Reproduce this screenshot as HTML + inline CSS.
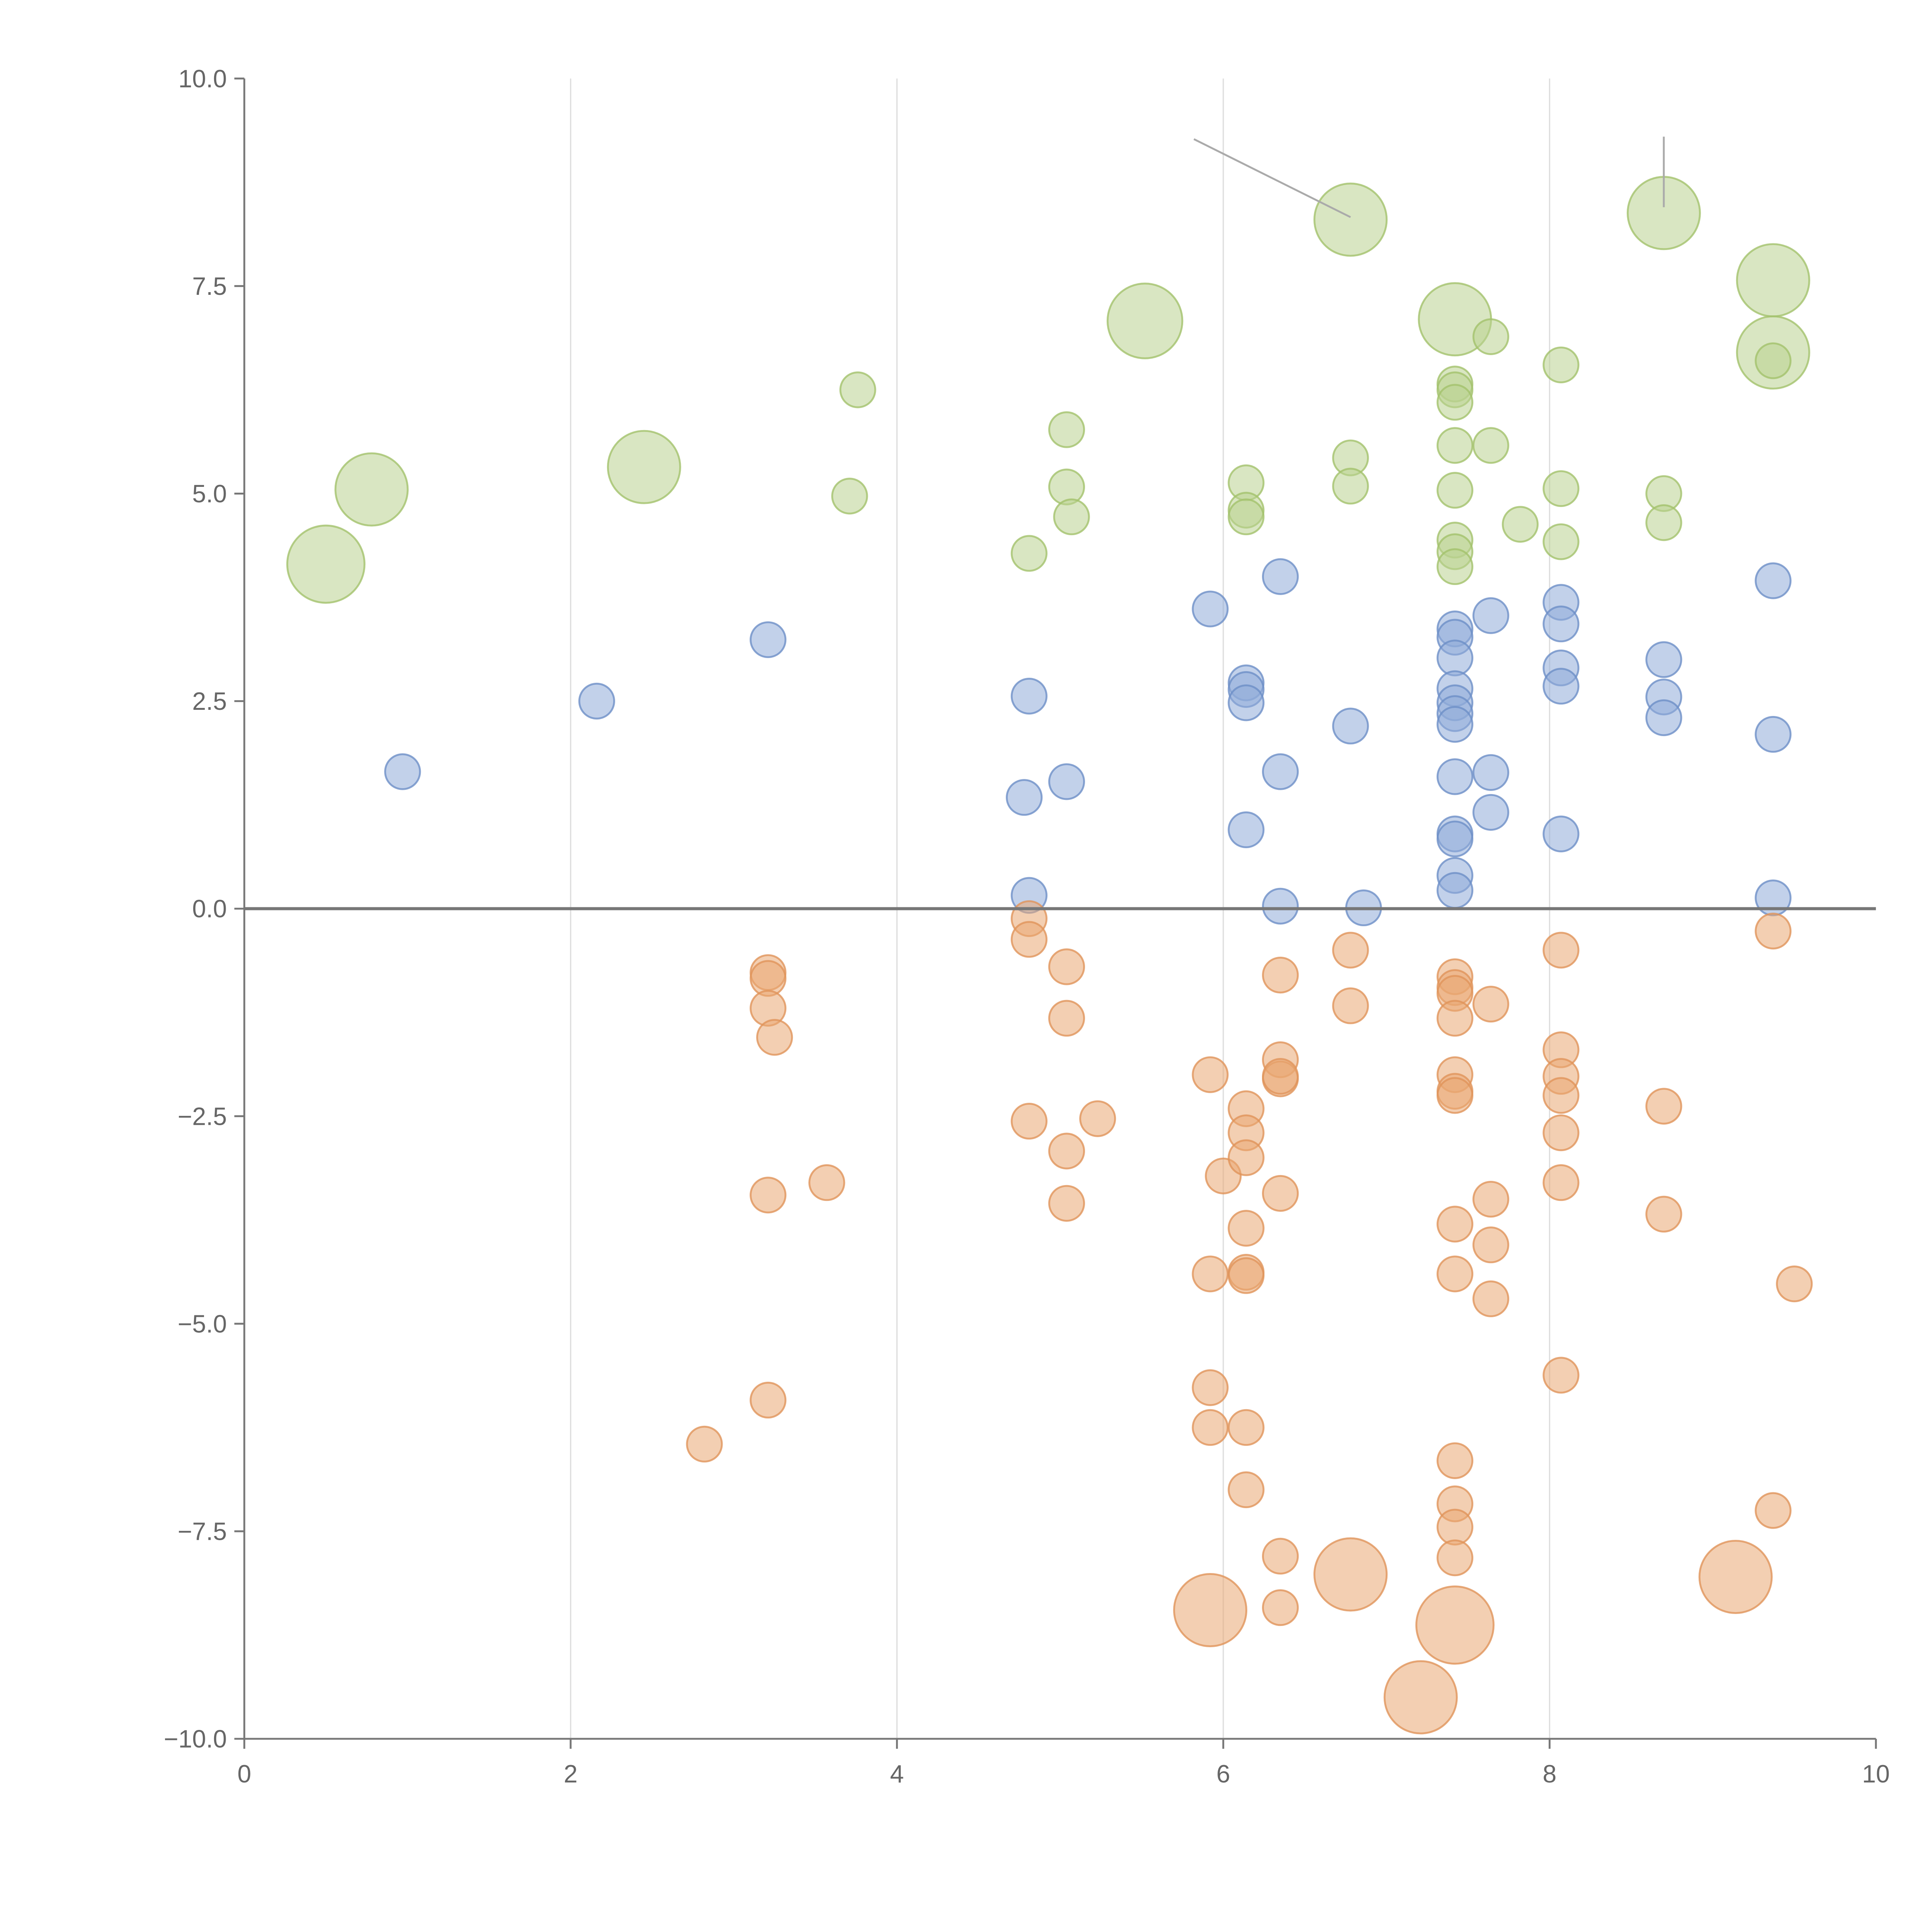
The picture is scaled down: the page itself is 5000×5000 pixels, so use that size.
<!DOCTYPE html>
<html><head><meta charset="utf-8"><style>html,body{margin:0;padding:0;background:#fff}svg{display:block}</style></head>
<body>
<svg id="chart" width="5000" height="5000" viewBox="0 0 1550 1550" xmlns="http://www.w3.org/2000/svg" font-family="Liberation Sans, sans-serif">
<g id="grid"></g>
<g id="marks"></g>
<g id="axes"></g>
</svg>
<script>
const xTicks=[0,2,4,6,8,10];
const yTicks=[10,7.5,5,2.5,0,-2.5,-5,-7.5,-10];
const yTickLabels=["10.0","7.5","5.0","2.5","0.0","\u22122.5","\u22125.0","\u22127.5","\u221210.0"];
const greenX=[0.5,0.78,2.45,5.52,6.78,7.42,8.7,9.37,9.37,3.76,3.71,5.04,5.04,5.07,4.81,6.14,6.14,6.14,6.78,6.78,7.42,7.42,7.42,7.42,7.42,7.42,7.42,7.42,7.64,7.64,7.82,8.07,8.07,8.07,8.7,8.7,9.37];
const greenY=[4.15,5.05,5.32,7.08,8.3,7.1,8.38,7.57,6.7,6.25,4.97,5.77,5.08,4.72,4.28,5.13,4.8,4.72,5.43,5.09,6.32,6.25,6.1,5.58,5.04,4.44,4.3,4.12,6.89,5.58,4.63,6.55,5.06,4.42,5.0,4.65,6.6];
const greenS=[31,29,29,30,29,29,29,29,29,14,14,14,14,14,14,14,14,14,14,14,14,14,14,14,14,14,14,14,14,14,14,14,14,14,14,14,14];
const blueX=[0.97,2.16,3.21,4.81,4.78,5.04,4.81,5.92,6.14,6.14,6.14,6.14,6.35,6.35,6.35,6.78,6.86,7.42,7.42,7.42,7.42,7.42,7.42,7.42,7.42,7.42,7.42,7.42,7.42,7.64,7.64,7.64,8.07,8.07,8.07,8.07,8.07,8.7,8.7,8.7,9.37,9.37,9.37];
const blueY=[1.65,2.5,3.24,2.56,1.34,1.53,0.16,3.61,2.72,2.64,2.48,0.95,4.0,1.65,0.03,2.2,0.01,3.37,3.27,3.02,2.65,2.48,2.35,2.22,1.59,0.9,0.84,0.4,0.22,3.53,1.64,1.16,3.69,3.43,2.9,2.68,0.9,3.0,2.55,2.3,3.95,2.1,0.13];
const orangeX=[3.21,3.21,3.21,3.25,3.21,3.57,3.21,2.82,4.81,4.81,5.04,5.04,4.81,5.23,5.04,5.04,5.92,6.0,5.92,5.92,5.92,5.92,6.14,6.14,6.14,6.14,6.14,6.14,6.14,6.14,6.35,6.35,6.35,6.35,6.35,6.35,6.35,6.78,6.78,6.78,7.21,7.42,7.42,7.42,7.42,7.42,7.42,7.42,7.42,7.42,7.42,7.42,7.42,7.42,7.42,7.64,7.64,7.64,7.64,8.07,8.07,8.07,8.07,8.07,8.07,8.07,8.7,8.7,9.37,9.37,9.5,9.14];
const orangeY=[-0.77,-0.84,-1.2,-1.55,-3.45,-3.3,-5.92,-6.45,-0.12,-0.37,-0.7,-1.32,-2.56,-2.53,-2.92,-3.55,-2.0,-3.22,-4.4,-5.77,-6.25,-8.45,-2.41,-2.7,-3.0,-3.85,-4.38,-4.42,-6.25,-7.0,-0.8,-1.82,-2.05,-2.02,-3.43,-7.8,-8.42,-0.5,-1.17,-8.02,-9.5,-0.82,-0.95,-1.02,-1.32,-2.0,-2.2,-2.25,-3.8,-4.4,-6.65,-7.17,-7.45,-7.82,-8.63,-1.15,-3.5,-4.05,-4.7,-0.5,-1.7,-2.02,-2.25,-2.7,-3.3,-5.62,-2.38,-3.68,-0.27,-7.25,-4.52,-8.05];
const orangeS=orangeX.map((_,i)=>[21,39,40,54].includes(i)?(i===54?31:29):([71].includes(i)?29:14));

const NS="http://www.w3.org/2000/svg";
const X0=196,X1=1505,Y0=1395,Y1=63;
const sx=v=>X0+(v-0)/(10-0)*(X1-X0);
const sy=v=>Y0-(v+10)/20*(Y0-Y1);
function mk(tag,attrs,parent){const e=document.createElementNS(NS,tag);for(const k in attrs)e.setAttribute(k,attrs[k]);parent.appendChild(e);return e;}
const grid=document.getElementById('grid'),marks=document.getElementById('marks'),axes=document.getElementById('axes');
xTicks.slice(1,5).forEach(t=>{const l=mk('line',{x1:sx(t),x2:sx(t),y1:Y1,y2:Y0,stroke:'#dddddd','stroke-width':1},grid);

});
function series(xs,ys,ss,fill,stroke,name){xs.forEach((x,i)=>{const c=mk('circle',{cx:sx(x),cy:sy(ys[i]),r:ss?ss[i]:14,fill:fill,'fill-opacity':0.55,stroke:stroke,'stroke-opacity':0.8,'stroke-width':1.5},marks);

});}
series(greenX,greenY,greenS,'#b9d28f','#a3c26c','green-bubble');
series(blueX,blueY,null,'#8fabd9','#6d8fc7','blue-bubble');
series(orangeX,orangeY,orangeS,'#eaa773','#e0935a','orange-bubble');
// annotation lines
const a1=mk('line',{x1:sx(5.82),y1:sy(9.27),x2:sx(6.78),y2:sy(8.33),stroke:'#aaaaaa','stroke-width':1.5},axes);


const a2=mk('line',{x1:sx(8.7),y1:sy(9.3),x2:sx(8.7),y2:sy(8.45),stroke:'#aaaaaa','stroke-width':1.5},axes);


// zero line
const z=mk('line',{x1:X0,x2:X1,y1:sy(0),y2:sy(0),stroke:'#777777','stroke-width':2.5},axes);


// axes
const ya=mk('line',{x1:X0,x2:X0,y1:Y1,y2:Y0,stroke:'#777','stroke-width':1.5},axes);


const xa=mk('line',{x1:X0,x2:X1,y1:Y0,y2:Y0,stroke:'#777','stroke-width':1.5},axes);


yTicks.forEach((t,i)=>{const tk=mk('line',{x1:X0-8,x2:X0,y1:sy(t),y2:sy(t),stroke:'#777','stroke-width':1.5},axes);


const tx=mk('text',{x:X0-14,y:sy(t)+7,'text-anchor':'end','font-size':20,fill:'#666'},axes);tx.textContent=yTickLabels[i];

});
xTicks.forEach(t=>{const tk=mk('line',{x1:sx(t),x2:sx(t),y1:Y0,y2:Y0+8,stroke:'#777','stroke-width':1.5},axes);


const tx=mk('text',{x:sx(t),y:Y0+35,'text-anchor':'middle','font-size':20,fill:'#666'},axes);tx.textContent=String(t);

});
</script>
</body></html>
